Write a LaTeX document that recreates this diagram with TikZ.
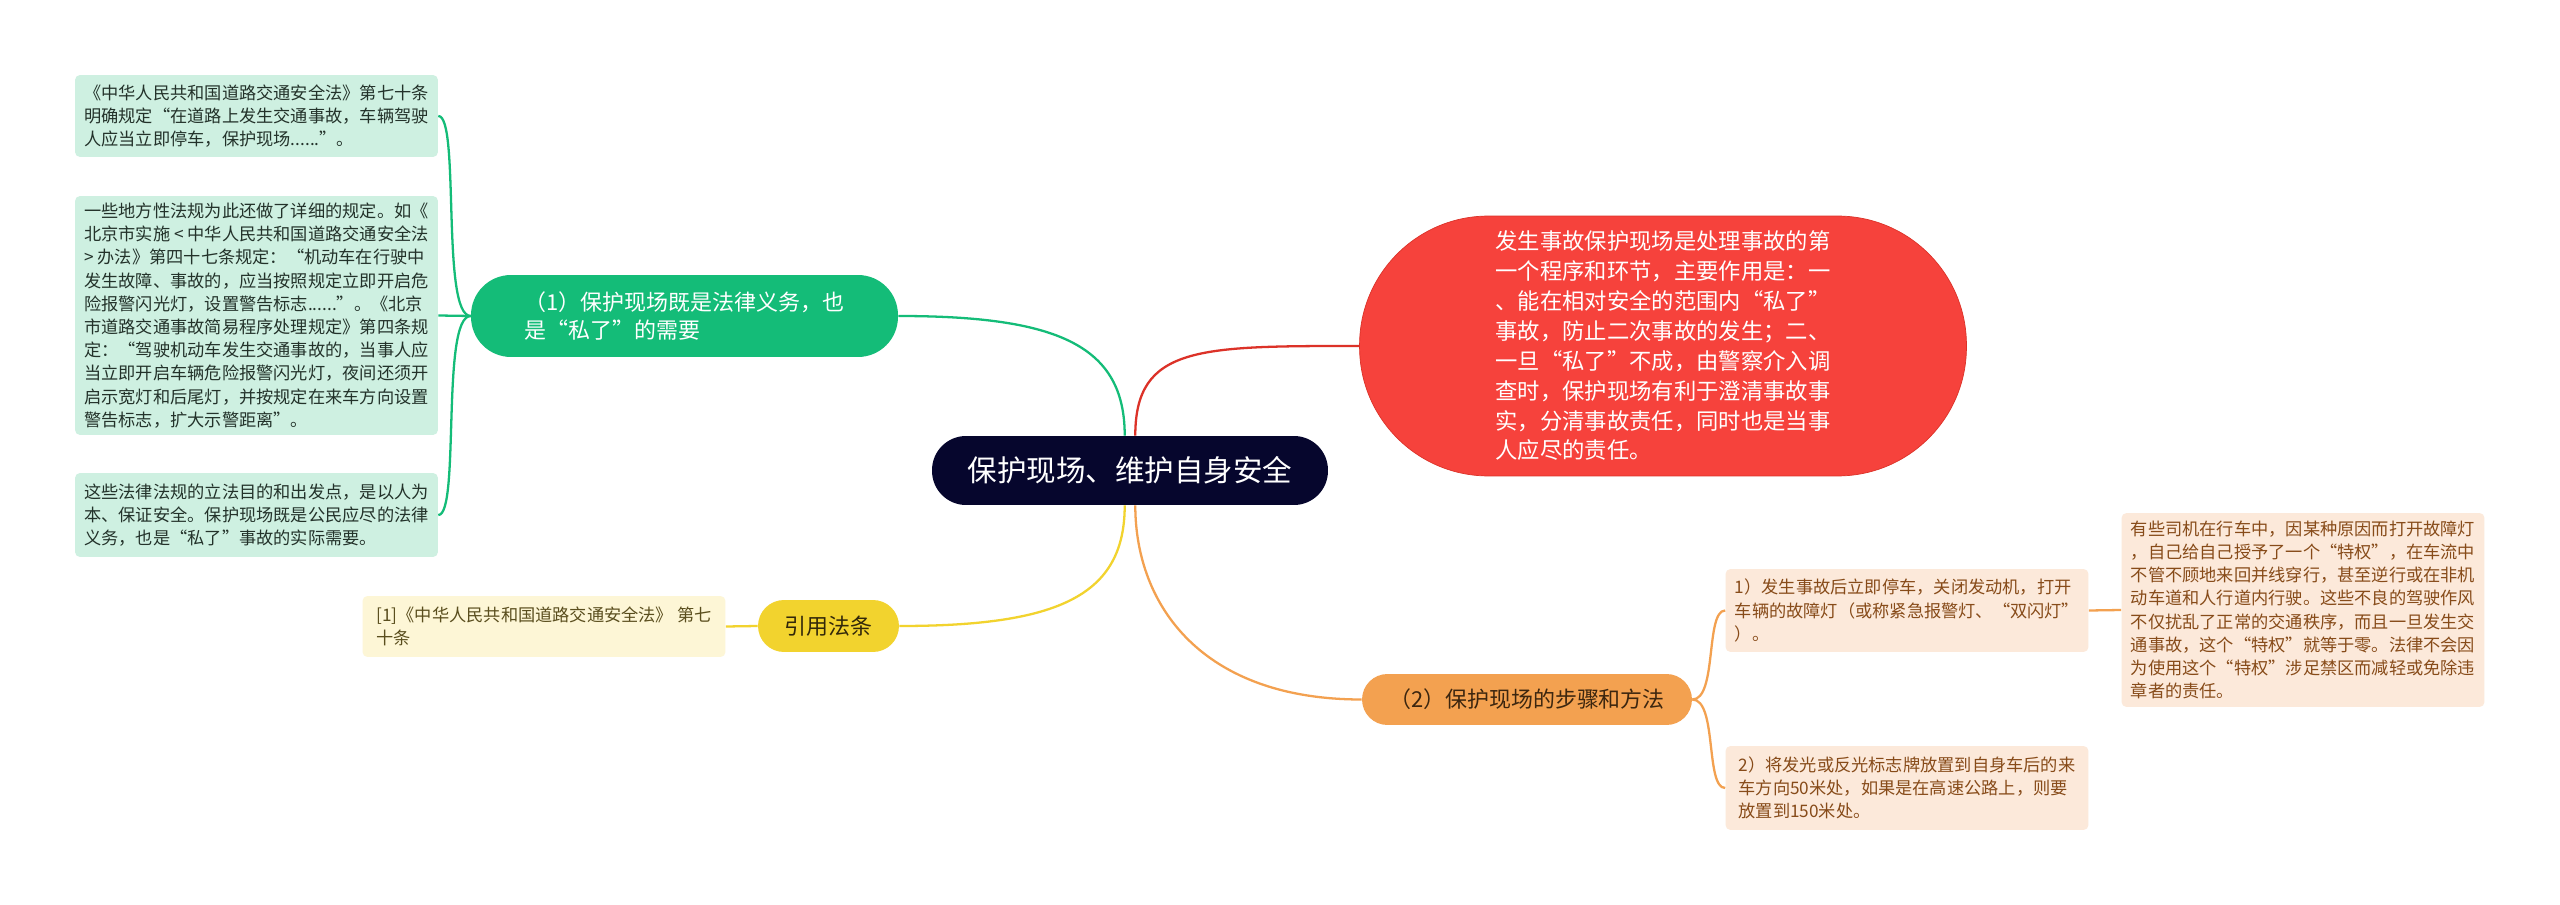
\documentclass[tikz,border=0pt]{standalone}
\usepackage{fontspec}
\setmainfont{Noto Sans CJK SC}
\definecolor{navy}{RGB}{6,6,45}
\definecolor{leafgreen}{RGB}{20,188,120}
\definecolor{mint}{RGB}{206,240,225}
\definecolor{mintink}{RGB}{35,50,42}
\definecolor{tomato}{RGB}{246,66,60}
\definecolor{tomatoline}{RGB}{220,50,40}
\definecolor{gold}{RGB}{242,211,46}
\definecolor{goldink}{RGB}{50,40,10}
\definecolor{cream}{RGB}{253,246,214}
\definecolor{creamink}{RGB}{90,78,30}
\definecolor{apricot}{RGB}{243,161,80}
\definecolor{apricotink}{RGB}{60,38,15}
\definecolor{peach}{RGB}{252,233,218}
\definecolor{brown}{RGB}{135,75,25}
\tikzset{
  topic/.style={fill=navy, text=white, rounded corners=0.68cm, minimum width=7.92cm,
    minimum height=1.38cm, font=\fontsize{16.8pt}{20pt}\selectfont},
  branch/.style={rounded corners=#1, align=left, font=\fontsize{12.5pt}{16pt}\selectfont},
  note/.style={rounded corners=0.1cm, align=left, minimum width=7.26cm,
    inner sep=0pt, font=\fontsize{9.8pt}{13.2pt}\selectfont},
  link/.style={line width=1.3pt}
}
\begin{document}
\begin{tikzpicture}[x=0.02cm, y=-0.02cm]
    \fill[white] (0,0) rectangle (2560,905);
    \useasboundingbox (0,0) rectangle (2560,905);

    \node[topic] (topic) at (1130,470.5) {保护现场、维护自身安全};

    % green branch
    \node[branch=0.8cm, fill=leafgreen, text=white, minimum width=8.54cm, minimum height=1.64cm]
      (duty) at (684.5,316) {（1）保护现场既是法律义务，也\\是“私了”的需要};
    \node[note, fill=mint, text=mintink, minimum height=1.64cm]
      (law) at (256.5,116) {《中华人民共和国道路交通安全法》第七十条\\
      明确规定“在道路上发生交通事故，车辆驾驶\\
      人应当立即停车，保护现场......”。};
    \node[note, fill=mint, text=mintink, minimum height=4.78cm]
      (local) at (256.5,315.5) {一些地方性法规为此还做了详细的规定。如《\\
      北京市实施 < 中华人民共和国道路交通安全法\\
      > 办法》第四十七条规定：“机动车在行驶中\\
      发生故障、事故的，应当按照规定立即开启危\\
      险报警闪光灯，设置警告标志......”。《北京\\
      市道路交通事故简易程序处理规定》第四条规\\
      定：“驾驶机动车发生交通事故的，当事人应\\
      当立即开启车辆危险报警闪光灯，夜间还须开\\
      启示宽灯和后尾灯，并按规定在来车方向设置\\
      警告标志，扩大示警距离”。};
    \node[note, fill=mint, text=mintink, minimum height=1.68cm]
      (aim) at (256.5,515) {这些法律法规的立法目的和出发点，是以人为\\
      本、保证安全。保护现场既是公民应尽的法律\\
      义务，也是“私了”事故的实际需要。};

    % red branch
    \node[branch=2.58cm, fill=tomato, draw=tomatoline, text=white,
      minimum width=12.14cm, minimum height=5.2cm, font=\fontsize{12.7pt}{17pt}\selectfont]
      (role) at (1663,346) {发生事故保护现场是处理事故的第\\
      一个程序和环节，主要作用是：一\\
      、能在相对安全的范围内“私了”\\
      事故，防止二次事故的发生；二、\\
      一旦“私了”不成，由警察介入调\\
      查时，保护现场有利于澄清事故事\\
      实，分清事故责任，同时也是当事\\
      人应尽的责任。};

    % yellow branch
    \node[branch=0.52cm, fill=gold, text=goldink,
      minimum width=2.82cm, minimum height=1.04cm] (cite) at (828.5,626) {引用法条};
    \node[note, fill=cream, text=creamink, minimum height=1.22cm]
      (citenote) at (544,626.5) {[1]《中华人民共和国道路交通安全法》 第七\\十条};

    % orange branch
    \node[branch=0.51cm, fill=apricot, text=apricotink,
      minimum width=6.6cm, minimum height=1.02cm] (steps) at (1527,699.5) {（2）保护现场的步骤和方法};
    \node[note, fill=peach, text=brown, minimum height=1.66cm]
      (stop) at (1907,610.5) {1）发生事故后立即停车，关闭发动机，打开\\
      车辆的故障灯（或称紧急报警灯、“双闪灯”\\
      ）。};
    \node[note, fill=peach, text=brown, minimum height=1.68cm]
      (sign) at (1907,788) {2）将发光或反光标志牌放置到自身车后的来\\
      车方向50米处，如果是在高速公路上，则要\\
      放置到150米处。};
    \node[note, fill=peach, text=brown, minimum height=3.88cm]
      (privilege) at (2303,610) {有些司机在行车中，因某种原因而打开故障灯\\
      ，自己给自己授予了一个“特权”，在车流中\\
      不管不顾地来回并线穿行，甚至逆行或在非机\\
      动车道和人行道内行驶。这些不良的驾驶作风\\
      不仅扰乱了正常的交通秩序，而且一旦发生交\\
      通事故，这个“特权”就等于零。法律不会因\\
      为使用这个“特权”涉足禁区而减轻或免除违\\
      章者的责任。};

    % connectors
    \draw[link, leafgreen] ([xshift=-3pt]topic.north) .. controls +(0,-90) and +(160,0) .. (duty.east);
    \draw[link, tomatoline] ([xshift=3pt]topic.north) .. controls +(0,-90) and +(-160,0) .. (role.west);
    \draw[link, gold] ([xshift=-3pt]topic.south) .. controls +(0,90) and +(160,0) .. (cite.east);
    \draw[link, apricot] ([xshift=3pt]topic.south) .. controls +(0,100) and +(-160,0) .. (steps.west);

    \draw[link, leafgreen] (duty.west) .. controls +(-30,0) and +(22,0) .. (law.east);
    \draw[link, leafgreen] (duty.west) -- (local.east);
    \draw[link, leafgreen] (duty.west) .. controls +(-30,0) and +(22,0) .. (aim.east);

    \draw[link, gold] (cite.west) -- (citenote.east);

    \draw[link, apricot] (steps.east) .. controls +(25,0) and +(-20,0) .. (stop.west);
    \draw[link, apricot] (steps.east) .. controls +(25,0) and +(-20,0) .. (sign.west);
    \draw[link, apricot] (stop.east) -- (privilege.west);
\end{tikzpicture}
\end{document}
